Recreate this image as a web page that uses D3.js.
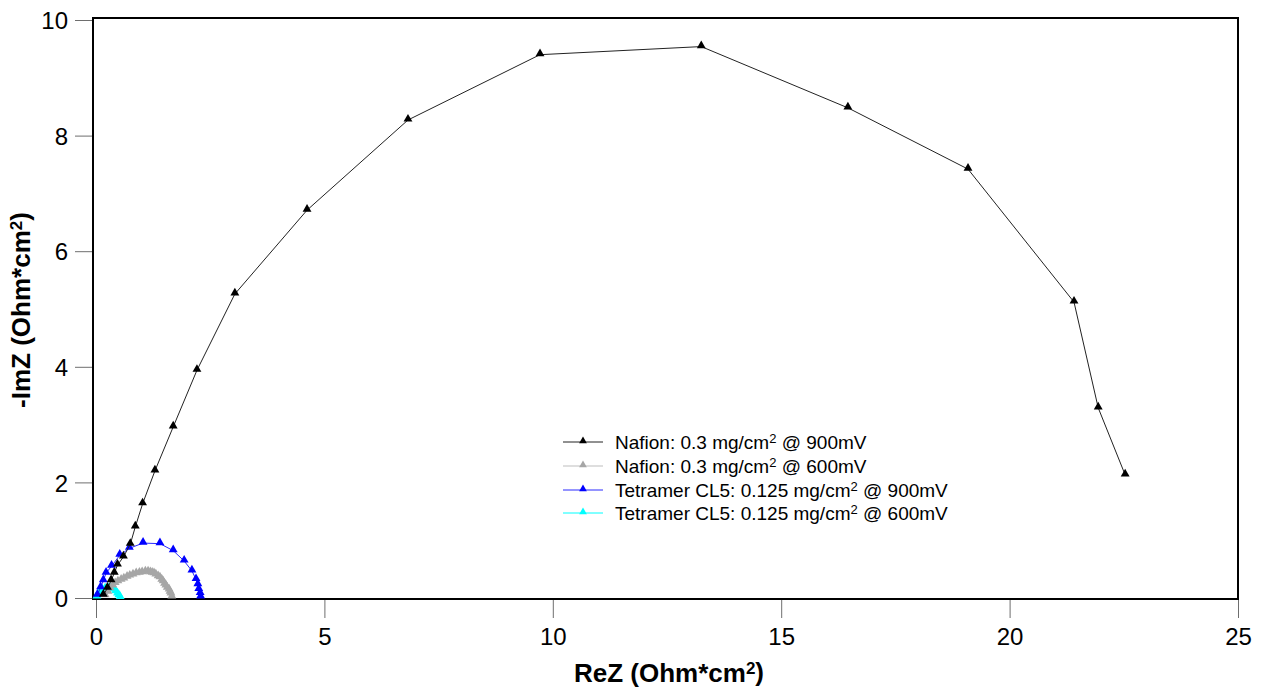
<!DOCTYPE html>
<html>
<head>
<meta charset="utf-8">
<script src="https://cdn.jsdelivr.net/npm/d3@7"></script>
<style>
  body { margin: 0; background: #fff; }
  text { font-family: "Liberation Sans", Arial, Helvetica, sans-serif; }
</style>
</head>
<body>
<div id="chart"></div>
<script>
// series data: [ReZ, -ImZ] in Ohm*cm2
var nafion900 = [
  [0.16, 0.05], [0.25, 0.17], [0.33, 0.30], [0.40, 0.43], [0.47, 0.57],
  [0.60, 0.71], [0.75, 0.93], [0.86, 1.23], [1.02, 1.63], [1.29, 2.20],
  [1.69, 2.96], [2.21, 3.94], [3.04, 5.26], [4.62, 6.71], [6.83, 8.27],
  [9.72, 9.40], [13.25, 9.54], [16.46, 8.48], [19.09, 7.42], [21.41, 5.12],
  [21.94, 3.29], [22.53, 2.13]
];
var nafion600 = [
  [0.20, 0.04], [0.26, 0.10], [0.31, 0.16], [0.37, 0.21], [0.42, 0.25],
  [0.48, 0.28], [0.55, 0.31], [0.61, 0.33], [0.68, 0.36], [0.74, 0.38],
  [0.81, 0.40], [0.88, 0.42], [0.95, 0.43], [1.01, 0.44], [1.08, 0.45],
  [1.14, 0.45], [1.19, 0.44], [1.23, 0.43], [1.27, 0.42], [1.31, 0.40],
  [1.36, 0.37], [1.40, 0.35], [1.44, 0.31], [1.47, 0.28], [1.50, 0.24],
  [1.53, 0.21], [1.56, 0.17], [1.60, 0.14], [1.62, 0.10], [1.64, 0.07],
  [1.66, 0.02]
];
var tetramer900 = [
  [0.03, 0.05], [0.10, 0.18], [0.16, 0.30], [0.22, 0.43], [0.34, 0.55],
  [0.52, 0.74], [0.73, 0.86], [1.03, 0.95], [1.40, 0.94], [1.69, 0.82],
  [1.93, 0.64], [2.10, 0.47], [2.19, 0.32], [2.23, 0.23], [2.25, 0.15],
  [2.28, 0.08], [2.29, 0.02]
];
var tetramer600 = [
  [0.02, 0.02], [0.05, 0.07], [0.09, 0.11], [0.14, 0.14], [0.20, 0.16],
  [0.26, 0.17], [0.32, 0.16], [0.38, 0.14], [0.43, 0.11], [0.47, 0.07],
  [0.50, 0.04], [0.53, 0.01]
];

var seriesNames = ["Nafion: 0.3 mg/cm|2| @ 900mV", "Nafion: 0.3 mg/cm|2| @ 600mV",
                   "Tetramer CL5: 0.125 mg/cm|2| @ 900mV", "Tetramer CL5: 0.125 mg/cm|2| @ 600mV"];
var seriesColors = ["#000000", "#a6a6a6", "#0000ff", "#00ffff"];
var lineColors = ["#222222", "#bdbdbd", "#2a2aff", "#00ffff"];
var xTicks = [0, 5, 10, 15, 20, 25];
var yTicks = [0, 2, 4, 6, 8, 10];

var allSeries = [nafion900, nafion600, tetramer900, tetramer600];

var width = 1263, height = 690;
var plotLeft = 93, plotRight = 1238, plotTop = 18, plotBottom = 599;

var svg = d3.select("#chart").append("svg")
  .attr("width", width)
  .attr("height", height);

var x = d3.scaleLinear().domain([0, 25]).range([96, 1238]);
var y = d3.scaleLinear().domain([0, 10]).range([598, 20]);

// axes (ticks outside, gray)
var xAxis = svg.append("g")
  .attr("transform", "translate(0," + plotBottom + ")")
  .call(d3.axisBottom(x).tickValues(xTicks).tickSize(19).tickPadding(10));
var yAxis = svg.append("g")
  .attr("transform", "translate(" + plotLeft + ",0)")
  .call(d3.axisLeft(y).tickValues(yTicks).tickSize(18).tickPadding(7));

[xAxis, yAxis].forEach(function(a) {
  a.select(".domain").remove();
  a.selectAll(".tick line").attr("stroke", "#6e6e6e").attr("stroke-width", 1);
  a.selectAll(".tick text")
    .attr("fill", "#000")
    .style("font-size", "24px")
    .style("font-family", "'Liberation Sans', Arial, sans-serif");
});
yAxis.selectAll(".tick text").attr("dy", "0.36em");

// frame
svg.append("rect")
  .attr("x", plotLeft).attr("y", plotTop)
  .attr("width", plotRight - plotLeft).attr("height", plotBottom - plotTop)
  .attr("fill", "none").attr("stroke", "#000").attr("stroke-width", 2);

var line = d3.line()
  .x(function(d) { return x(d[0]); })
  .y(function(d) { return y(d[1]); });

var tri = d3.symbol().type(d3.symbolTriangle).size(34);

// draw series (first on top, so draw in reverse order)
for (var i = allSeries.length - 1; i >= 0; i--) {
  var g = svg.append("g");
  g.append("path")
    .datum(allSeries[i])
    .attr("d", line)
    .attr("fill", "none")
    .attr("stroke", lineColors[i])
    .attr("stroke-width", 1);
  g.selectAll("path.m")
    .data(allSeries[i])
    .enter().append("path")
    .attr("class", "m")
    .attr("d", tri)
    .attr("fill", seriesColors[i])
    .attr("transform", function(d) { return "translate(" + x(d[0]) + "," + (y(d[1]) - 1) + ")"; });
}

// legend
var legendY = [442, 466, 490, 513];
var legend = svg.append("g");
seriesNames.forEach(function(name, i) {
  var row = legend.append("g").attr("transform", "translate(563," + legendY[i] + ")");
  row.append("line")
    .attr("x1", 0).attr("x2", 40).attr("y1", 0).attr("y2", 0)
    .attr("stroke", lineColors[i]).attr("stroke-width", 1);
  row.append("path")
    .attr("d", d3.symbol().type(d3.symbolTriangle).size(26))
    .attr("fill", seriesColors[i])
    .attr("transform", "translate(20,-1)");
  var parts = name.split("|");
  var t = row.append("text")
    .attr("x", 52).attr("y", 0).attr("dy", "0.35em")
    .style("font-size", "19px").attr("fill", "#000");
  t.append("tspan").text(parts[0]);
  t.append("tspan").attr("dy", "-0.45em").style("font-size", "13px").text(parts[1]);
  t.append("tspan").attr("dy", "0.3em").text(parts[2]);
});

// axis titles
var xt = svg.append("text")
  .attr("x", 669).attr("y", 682)
  .attr("text-anchor", "middle")
  .style("font-size", "26px").style("font-weight", "bold");
xt.append("tspan").text("ReZ (Ohm*cm");
xt.append("tspan").attr("dy", "-0.5em").style("font-size", "17px").text("2");
xt.append("tspan").attr("dy", "0.3em").text(")");

var yt = svg.append("text")
  .attr("transform", "translate(30,310) rotate(-90)")
  .attr("text-anchor", "middle")
  .style("font-size", "26px").style("font-weight", "bold");
yt.append("tspan").text("-ImZ (Ohm*cm");
yt.append("tspan").attr("dy", "-0.5em").style("font-size", "17px").text("2");
yt.append("tspan").attr("dy", "0.3em").text(")");
</script>
</body>
</html>
